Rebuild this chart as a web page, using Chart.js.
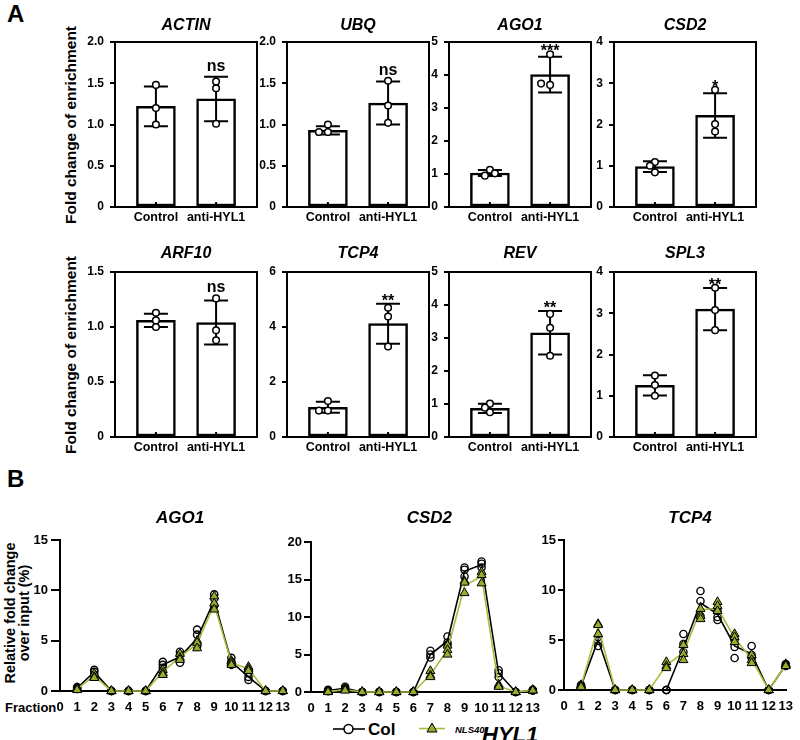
<!DOCTYPE html>
<html><head><meta charset="utf-8"><title>HYL1 ChIP enrichment</title>
<script src="https://cdn.jsdelivr.net/npm/chart.js@4.4.1/dist/chart.umd.min.js"></script>
<style>
html,body{margin:0;padding:0;background:#fff;overflow:hidden}
#wrap{position:relative;width:800px;height:740px;overflow:hidden;background:#fff}
#wrap canvas{position:absolute}
.t{position:absolute;font-family:'Liberation Sans',Arial,sans-serif;font-weight:bold;color:#000;white-space:nowrap}
.rot{transform:translate(-50%,-50%) rotate(-90deg);text-align:center}
.it{font-style:italic}
</style></head><body>
<div id="wrap">
<div class="t" style="left:7px;top:2px;font-size:24px;line-height:24px">A</div>
<div class="t" style="left:7px;top:467px;font-size:24px;line-height:24px">B</div>
<div class="t rot" style="left:71px;top:124.5px;font-size:15.5px;line-height:18px">Fold change of enrichment</div>
<div class="t rot" style="left:71px;top:354.5px;font-size:15.5px;line-height:18px">Fold change of enrichment</div>
<div class="t rot" style="left:17.4px;top:613px;font-size:14.5px;line-height:14px">Relative fold change<br>over input (%)</div>
<div class="t" style="left:5px;top:701px;font-size:13px;line-height:13px">Fraction</div>
<svg style="position:absolute;left:333px;top:721px" width="32" height="16"><line x1="0" y1="8" x2="32" y2="8" stroke="#000" stroke-width="1.6"/><circle cx="15.5" cy="8" r="4.5" fill="#fff" stroke="#000" stroke-width="1.6"/></svg>
<div class="t" style="left:368px;top:720.7px;font-size:17px;line-height:17px">Col</div>
<svg style="position:absolute;left:419px;top:720px" width="26" height="16"><line x1="0" y1="8.5" x2="26" y2="8.5" stroke="#aabb3c" stroke-width="1.6"/><polygon points="13,3 18,12 8,12" fill="#9bab2c" stroke="#000" stroke-width="1"/></svg>
<div class="t it" style="left:455px;top:724.8px;font-size:9.5px;line-height:9.5px">NLS40</div>
<div class="t it" style="left:482px;top:724.4px;font-size:22px;line-height:22px">HYL1</div>
</div>
<script>
// ---------------- Panel A data ----------------
const genesA = ['ACTIN','UBQ','AGO1','CSD2','ARF10','TCP4','REV','SPL3'];
const groupsA = ['Control','anti-HYL1'];
const yTicksA = [[0,0.5,1,1.5,2],[0,0.5,1,1.5,2],[0,1,2,3,4,5],[0,1,2,3,4],[0,0.5,1,1.5],[0,2,4,6],[0,1,2,3,4,5],[0,1,2,3,4]];
const yTickLabelsA = [['0','0.5','1.0','1.5','2.0'],['0','0.5','1.0','1.5','2.0'],['0','1','2','3','4','5'],['0','1','2','3','4'],['0','0.5','1.0','1.5'],['0','2','4','6'],['0','1','2','3','4','5'],['0','1','2','3','4']];
const meanControl = [1.22,0.93,1.03,0.98,1.06,1.08,0.87,1.25];
const meanAnti    = [1.31,1.26,4.01,2.22,1.04,4.12,3.16,3.10];
const sdControl   = [0.24,0.05,0.09,0.13,0.06,0.20,0.14,0.245];
const sdAnti      = [0.27,0.26,0.54,0.54,0.20,0.73,0.66,0.51];
const repsControl = [[1.48,1.20,1.00],[1.00,0.91,0.91],[1.13,0.95,1.02],[1.09,1.00,0.84],[1.13,1.06,1.00],[1.31,0.96,0.96],[1.01,0.89,0.75],[1.49,1.26,1.00]];
const repsAnti    = [[1.52,1.44,1.01],[1.53,1.23,1.02],[4.63,3.70,3.74],[2.84,2.01,1.83],[1.26,0.97,0.88],[4.70,4.38,3.29],[3.73,3.31,2.46],[3.62,3.08,2.59]];
const signifA = ['ns','ns','***','*','ns','**','**','**'];

// ---------------- Panel B data ----------------
const genesB = ['AGO1','CSD2','TCP4'];
const fractionsB = [1,2,3,4,5,6,7,8,9,10,11,12,13];
const xTicksB = [0,1,2,3,4,5,6,7,8,9,10,11,12,13];
const xTickLabelsB = ['0','1','2','3','4','5','6','7','8','9','10','11','12','13'];
const yTicksB = [[0,5,10,15],[0,5,10,15,20],[0,5,10,15]];
const yTickLabelsB = [['0','5','10','15'],['0','5','10','15','20'],['0','5','10','15']];

const colMeanAGO1 = [0.3,1.9,0,0,0,2.6,3.4,5.2,9.0,2.9,1.4,0,0];
const hylMeanAGO1 = [0.2,1.5,0,0,0,1.9,3.4,4.7,8.6,2.8,2.2,0,0];
const colRepAGO1 = [[0.4,0.3,0.2],[2.1,1.9,1.6],[0,0,0],[0,0,0],[0,0,0],[2.9,2.6,2.3],[3.9,3.6,2.8],[6.1,5.6,4.4],[9.6,9.2,8.5],[3.3,2.9,2.6],[1.8,1.4,1.1],[0,0,0],[0,0,0]];
const hylRepAGO1 = [[0.3,0.2,0.1],[1.7,1.4,1.3],[0,0,0],[0,0,0],[0,0,0],[2.1,1.8,1.6],[3.7,3.3,3.1],[5.0,4.8,4.25],[9.4,8.7,8.1],[3.0,2.8,2.6],[2.4,2.2,2.0],[0,0,0],[0,0,0]];

const colMeanCSD2 = [0.2,0.5,0,0,0,0,5.0,6.8,16.1,17.0,2.5,0,0.2];
const hylMeanCSD2 = [0.05,0.3,0,0,0,0,2.3,5.6,14.2,15.4,0.8,0,0.2];
const colRepCSD2 = [[0.3,0.2,0.1],[0.7,0.5,0.4],[0,0,0],[0,0,0],[0,0,0],[0,0,0],[5.5,5.0,4.6],[7.4,6.6,6.3],[16.6,16.3,15.4],[17.4,17.1,16.6],[2.9,2.5,2.0],[0,0,0],[0.3,0.2,0.2]];
const hylRepCSD2 = [[0.1,0.05,0],[0.4,0.3,0.2],[0,0,0],[0,0,0],[0,0,0],[0,0,0],[2.8,2.2,2.0],[6.2,5.6,5.0],[14.8,14.6,13.2],[16.0,15.6,14.5],[1.0,0.8,0.7],[0,0,0],[0.3,0.2,0.2]];

const colMeanTCP4 = [0.4,5.0,0,0,0,0,4.2,8.7,7.6,4.4,3.6,0,2.5];
const hylMeanTCP4 = [0.4,6.3,0,0,0,2.5,3.7,8.0,8.2,5.2,3.1,0,2.5];
const colRepTCP4 = [[0.5,0.4,0.3],[5.3,4.9,4.4],[0,0,0],[0,0,0],[0,0,0],[0,0,0],[5.6,4.6,3.8],[9.9,8.9,7.4],[7.9,7.3,7.0],[5.0,4.3,3.2],[4.4,3.5,3.2],[0,0,0],[2.6,2.5,2.4]];
const hylRepTCP4 = [[0.5,0.4,0.3],[6.6,6.5,5.6],[0,0,0],[0,0,0],[0,0,0],[2.8,2.4,2.2],[4.5,3.6,3.0],[8.1,7.4,7.1],[8.8,8.4,7.9],[5.6,5.3,4.8],[3.5,3.0,2.7],[0,0,0],[2.6,2.5,2.4]];

// ---------------- styling / layout ----------------
const FONT = "'Liberation Sans', Arial, sans-serif";
const OLIVE_FILL = '#9bab2c', OLIVE_LINE = '#aabb3c';
Chart.defaults.font.family = FONT;
Chart.defaults.font.weight = 'bold';
Chart.defaults.color = '#000';

const wrap = document.getElementById('wrap');
function makeCanvas(left, top, w, h) {
  const c = document.createElement('canvas');
  c.width = w; c.height = h;
  c.style.left = left + 'px'; c.style.top = top + 'px';
  c.style.width = w + 'px'; c.style.height = h + 'px';
  wrap.appendChild(c);
  return c;
}

const titlePlugin = {
  id: 'ptitle',
  afterDraw(chart, args, o) {
    const {ctx, chartArea: a} = chart;
    ctx.save();
    ctx.font = 'italic bold ' + o.size + 'px ' + FONT;
    ctx.fillStyle = '#000'; ctx.textAlign = 'center'; ctx.textBaseline = 'middle';
    const x = (o.x !== undefined && o.x !== null) ? o.x : (a.left + a.right) / 2;
    ctx.fillText(o.text, x, o.y);
    ctx.restore();
  }
};

const panelAPlugin = {
  id: 'panelA',
  afterDatasetDraw(chart, args, o) {
    if (args.index !== 0) return;
    const k = o.k;
    const {ctx, scales: {x, y}} = chart;
    ctx.save(); ctx.strokeStyle = '#000'; ctx.lineWidth = 2;
    [[meanControl[k], sdControl[k]], [meanAnti[k], sdAnti[k]]].forEach(([m, s], g) => {
      const px = x.getPixelForValue(g);
      const yt = y.getPixelForValue(m + s), yb = y.getPixelForValue(m - s);
      ctx.beginPath();
      ctx.moveTo(px, yt); ctx.lineTo(px, yb);
      ctx.moveTo(px - 12, yt); ctx.lineTo(px + 12, yt);
      ctx.moveTo(px - 12, yb); ctx.lineTo(px + 12, yb);
      ctx.stroke();
    });
    ctx.restore();
  },
  afterDraw(chart, args, o) {
    const k = o.k;
    const {ctx, chartArea: a, scales: {x, y}} = chart;
    ctx.save();
    ctx.strokeStyle = '#000'; ctx.lineWidth = 2;
    ctx.strokeRect(a.left, a.top, a.right - a.left, a.bottom - a.top);
    [0, 1].forEach(v => {
      const px = x.getPixelForValue(v);
      ctx.beginPath(); ctx.moveTo(px, a.bottom); ctx.lineTo(px, a.bottom - 5); ctx.stroke();
    });
    const topVal = Math.max(meanAnti[k] + sdAnti[k], ...repsAnti[k]);
    const ty = y.getPixelForValue(topVal);
    const s = signifA[k];
    ctx.fillStyle = '#000'; ctx.font = 'bold 16px ' + FONT;
    ctx.textAlign = 'center'; ctx.textBaseline = 'alphabetic';
    ctx.fillText(s, x.getPixelForValue(1), s === 'ns' ? ty - 6 : ty + 2);
    ctx.restore();
  }
};

// small horizontal dodge for overlapping replicate dots (pixel-based)
function dodge(values, pxPerUnitY) {
  const placed = [];
  return values.map(v => {
    const py = v * pxPerUnitY;
    for (const dx of [0, -5, 5, -9, 9]) {
      if (placed.every(p => Math.hypot(p.dx - dx, p.py - py) >= 6)) { placed.push({dx, py}); return dx; }
    }
    placed.push({dx: 0, py}); return 0;
  });
}

const boxLeftA = [115, 287, 449, 614, 115, 287, 449, 614];
const rowTopA  = [0, 0, 0, 0, 230, 230, 230, 230];
const boxTopA  = [42, 42, 42, 42, 272, 272, 272, 272];
const titleYA  = [25.7, 25.7, 25.7, 25.7, 253.7, 253.7, 253.7, 253.7];
const BOX_W = 142, BOX_H = 165, X_MIN = -0.68, X_MAX = 1.68;

genesA.forEach((gene, k) => {
  const yTicks = yTicksA[k];
  const yMax = yTicks[yTicks.length - 1];
  const pxY = BOX_H / yMax, pxX = BOX_W / (X_MAX - X_MIN);
  const pts = [];
  [repsControl[k], repsAnti[k]].forEach((vals, g) => {
    const offs = dodge(vals, pxY);
    vals.forEach((v, i) => pts.push({x: g + offs[i] / pxX, y: v}));
  });
  const padTop = boxTopA[k] - rowTopA[k];
  const c = makeCanvas(boxLeftA[k] - 45, rowTopA[k], 45 + BOX_W + 8, padTop + BOX_H + 30);
  new Chart(c, {
    type: 'bar',
    data: {datasets: [
      {type: 'bar', order: 2, data: [{x: 0, y: meanControl[k]}, {x: 1, y: meanAnti[k]}],
       backgroundColor: '#fff', borderColor: '#000', borderWidth: 2.5, borderSkipped: false, barThickness: 39},
      {type: 'scatter', order: 1, clip: false, data: pts, pointStyle: 'circle', pointRadius: 3.3,
       pointBorderWidth: 1.5, pointBorderColor: '#000', pointBackgroundColor: '#fff'}
    ]},
    options: {
      responsive: false, animation: false, events: [], devicePixelRatio: 1,
      layout: {padding: {top: padTop, right: 8, left: 0, bottom: 0}},
      plugins: {legend: {display: false}, tooltip: {enabled: false}, title: {display: false},
        ptitle: {text: gene, size: 16, y: titleYA[k] - rowTopA[k]}, panelA: {k: k}},
      scales: {
        x: {type: 'linear', min: X_MIN, max: X_MAX, offset: false,
          afterBuildTicks: s => { s.ticks = [0, 1].map(v => ({value: v})); },
          ticks: {callback: v => groupsA[v], font: {size: 12.5, weight: 'bold'}, color: '#000', padding: 3,
            autoSkip: false, maxRotation: 0, minRotation: 0},
          grid: {display: false, drawTicks: false, offset: false}, border: {display: false},
          afterFit: s => { s.height = 30; }},
        y: {type: 'linear', min: 0, max: yMax,
          afterBuildTicks: s => { s.ticks = yTicks.map(v => ({value: v})); },
          ticks: {callback: (v, i) => yTickLabelsA[k][i], font: {size: 12, weight: 'bold'}, color: '#000', padding: 6},
          grid: {drawOnChartArea: false, drawTicks: true, tickLength: 5, color: '#000', lineWidth: 2},
          border: {display: false}, afterFit: s => { s.width = 45; }}
      }
    },
    plugins: [titlePlugin, panelAPlugin]
  });
});

// ---------------- Panel B charts ----------------
const seriesB = [
  {colMean: colMeanAGO1, hylMean: hylMeanAGO1, colRep: colRepAGO1, hylRep: hylRepAGO1},
  {colMean: colMeanCSD2, hylMean: hylMeanCSD2, colRep: colRepCSD2, hylRep: hylRepCSD2},
  {colMean: colMeanTCP4, hylMean: hylMeanTCP4, colRep: colRepTCP4, hylRep: hylRepTCP4}
];
const layoutB = [
  {left: 15, top: 495, w: 284, h: 226, padTop: 45, titleX: 165, tickLen: 9, tickPad: 3},
  {left: 266, top: 495, w: 283, h: 227, padTop: 47, titleX: 163.3, tickLen: 7, tickPad: 2},
  {left: 519, top: 495, w: 283, h: 225, padTop: 45, titleX: 171, tickLen: 6, tickPad: 2}
];
function flattenReps(reps) {
  const out = [];
  reps.forEach((r, i) => r.forEach(v => out.push({x: fractionsB[i], y: v})));
  return out;
}
genesB.forEach((gene, k) => {
  const L = layoutB[k], S = seriesB[k];
  const yTicks = yTicksB[k];
  const c = makeCanvas(L.left, L.top, L.w, L.h);
  new Chart(c, {
    type: 'line',
    data: {datasets: [
      {order: 4, data: fractionsB.map((f, i) => ({x: f, y: S.colMean[i]})), borderColor: '#000', borderWidth: 1.6,
       pointRadius: 0, fill: false, clip: false, tension: 0},
      {type: 'scatter', order: 3, data: flattenReps(S.colRep), pointStyle: 'circle', pointRadius: 3.6,
       pointBorderWidth: 1.4, pointBorderColor: '#000', pointBackgroundColor: 'rgba(255,255,255,0)', clip: false},
      {order: 2, data: fractionsB.map((f, i) => ({x: f, y: S.hylMean[i]})), borderColor: OLIVE_LINE, borderWidth: 1.6,
       pointRadius: 0, fill: false, clip: false, tension: 0},
      {type: 'scatter', order: 1, data: flattenReps(S.hylRep), pointStyle: 'triangle', pointRadius: 5.2,
       pointBorderWidth: 1, pointBorderColor: '#000', pointBackgroundColor: OLIVE_FILL, clip: false}
    ]},
    options: {
      responsive: false, animation: false, events: [], devicePixelRatio: 1,
      layout: {padding: {top: L.padTop, right: 12, left: 0, bottom: 0}},
      plugins: {legend: {display: false}, tooltip: {enabled: false}, title: {display: false},
        ptitle: {text: gene, size: 17, y: 23, x: L.titleX}},
      scales: {
        x: {type: 'linear', min: 0, max: 13, offset: false,
          afterBuildTicks: s => { s.ticks = xTicksB.map(v => ({value: v})); },
          ticks: {callback: (v, i) => xTickLabelsB[i], font: {size: 13, weight: 'bold'}, color: '#000', padding: 9,
            autoSkip: false, maxRotation: 0, minRotation: 0},
          grid: {display: true, drawOnChartArea: false, drawTicks: false, color: '#000', lineWidth: 2},
          border: {display: true, color: '#000', width: 2}, afterFit: s => { s.height = 30; }},
        y: {type: 'linear', min: 0, max: yTicks[yTicks.length - 1],
          afterBuildTicks: s => { s.ticks = yTicks.map(v => ({value: v})); },
          ticks: {callback: (v, i) => yTickLabelsB[k][i], font: {size: 13, weight: 'bold'}, color: '#000', padding: L.tickPad},
          grid: {drawOnChartArea: false, drawTicks: true, tickLength: L.tickLen, color: '#000', lineWidth: 2},
          border: {display: true, color: '#000', width: 2}, afterFit: s => { s.width = 45; }}
      }
    },
    plugins: [titlePlugin]
  });
});
</script>
</body></html>
